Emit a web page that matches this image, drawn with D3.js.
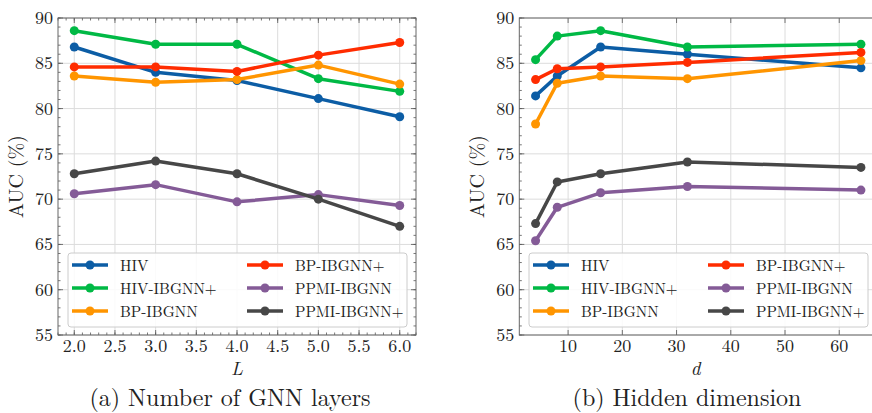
<!DOCTYPE html>
<html>
<head>
<meta charset="utf-8">
<script src="https://cdn.jsdelivr.net/npm/d3@7"></script>
<style>
  body { margin: 0; background: #fff; }
</style>
</head>
<body>
<svg id="chart" width="872" height="413"></svg>
<script>
const seriesNames = ['HIV', 'HIV-IBGNN+', 'BP-IBGNN', 'BP-IBGNN+', 'PPMI-IBGNN', 'PPMI-IBGNN+'];
const seriesColors = ['#0C5DA5', '#00B945', '#FF9500', '#FF2C00', '#845B97', '#474747'];

// (a) number of GNN layers
const layers = [2, 3, 4, 5, 6];
const layerAUC = [
  [86.8, 84.0, 83.1, 81.1, 79.1],
  [88.6, 87.1, 87.1, 83.3, 81.9],
  [83.6, 82.9, 83.2, 84.8, 82.7],
  [84.6, 84.6, 84.1, 85.9, 87.3],
  [70.6, 71.6, 69.7, 70.5, 69.3],
  [72.8, 74.2, 72.8, 70.0, 67.0]
];

// (b) hidden dimension
const dims = [4, 8, 16, 32, 64];
const dimAUC = [
  [81.4, 83.6, 86.8, 86.0, 84.5],
  [85.4, 88.0, 88.6, 86.8, 87.1],
  [78.3, 82.8, 83.6, 83.3, 85.3],
  [83.2, 84.4, 84.6, 85.1, 86.2],
  [65.4, 69.1, 70.7, 71.4, 71.0],
  [67.3, 71.9, 72.8, 74.1, 73.5]
];

const yTicks = [55, 60, 65, 70, 75, 80, 85, 90];
const layerTicks = [2.0, 2.5, 3.0, 3.5, 4.0, 4.5, 5.0, 5.5, 6.0];
const dimTicks = [10, 20, 30, 40, 50, 60];

const FONT = '"Latin Modern Roman"';
const svg = d3.select('#chart');
svg.append('defs').append('clipPath').attr('id', 'page')
  .append('rect').attr('width', 872).attr('height', 413);

function label(sel, size) {
  return sel.style('font-family', FONT).attr('font-size', size).attr('fill', '#222');
}

function panel(opts) {
  const { x0, x1, xDomain, xTicks, xMinor, xFmt, xs, values, xLabel, caption, captionX, legendX } = opts;
  const top = 18, bottom = 335;
  const x = d3.scaleLinear().domain(xDomain).range([x0, x1]);
  const y = d3.scaleLinear().domain([55, 90]).range([bottom, top]);
  const g = svg.append('g');

  // grid
  g.append('g').selectAll('line').data(xTicks).join('line')
    .attr('x1', (d) => x(d)).attr('x2', (d) => x(d))
    .attr('y1', top).attr('y2', bottom)
    .attr('stroke', '#dcdcdc').attr('stroke-width', 1);
  g.append('g').selectAll('line').data(yTicks).join('line')
    .attr('x1', x0).attr('x2', x1)
    .attr('y1', (d) => y(d)).attr('y2', (d) => y(d))
    .attr('stroke', '#dcdcdc').attr('stroke-width', 1);

  // inward ticks on all four sides
  const yMinor = d3.range(55, 91, 1);
  const xMin = d3.range(xDomain[0], xDomain[1] + 1e-9, xMinor).map((v) => +v.toFixed(3))
    .filter((v) => Math.abs(v / xMinor - Math.round(v / xMinor)) < 1e-6);
  const tickG = g.append('g').attr('stroke', '#555').attr('stroke-width', 0.8);
  const addX = (vals, len) => {
    tickG.append('g').selectAll('line').data(vals).join('line')
      .attr('x1', (d) => x(d)).attr('x2', (d) => x(d))
      .attr('y1', bottom).attr('y2', bottom - len);
    tickG.append('g').selectAll('line').data(vals).join('line')
      .attr('x1', (d) => x(d)).attr('x2', (d) => x(d))
      .attr('y1', top).attr('y2', top + len);
  };
  const addY = (vals, len) => {
    tickG.append('g').selectAll('line').data(vals).join('line')
      .attr('y1', (d) => y(d)).attr('y2', (d) => y(d))
      .attr('x1', x0).attr('x2', x0 + len);
    tickG.append('g').selectAll('line').data(vals).join('line')
      .attr('y1', (d) => y(d)).attr('y2', (d) => y(d))
      .attr('x1', x1).attr('x2', x1 - len);
  };
  addX(xMin, 2.5);
  addX(xTicks, 5);
  addY(yMinor, 2.5);
  addY(yTicks, 5);

  // frame
  g.append('rect').attr('x', x0).attr('y', top).attr('width', x1 - x0).attr('height', bottom - top)
    .attr('fill', 'none').attr('stroke', '#666').attr('stroke-width', 1);

  // tick labels
  label(g.append('g').selectAll('text').data(xTicks).join('text'), 18)
    .attr('x', (d) => x(d)).attr('y', bottom + 17)
    .attr('text-anchor', 'middle')
    .text(xFmt);
  label(g.append('g').selectAll('text').data(yTicks).join('text'), 18)
    .attr('x', x0 - 5).attr('y', (d) => y(d) + 6)
    .attr('text-anchor', 'end')
    .text((d) => d);

  // axis labels
  label(g.append('text'), 19).attr('x', (x0 + Math.min(x1, 872)) / 2).attr('y', 375)
    .attr('text-anchor', 'middle').attr('font-style', 'italic')
    .text(xLabel);
  label(g.append('text'), 20).attr('transform', `translate(${x0 - 35},${(top + bottom) / 2}) rotate(-90)`)
    .attr('text-anchor', 'middle')
    .text('AUC (%)');

  // lines
  const line = d3.line().x((d, i) => x(xs[i])).y((d) => y(d));
  const plot = g.append('g').attr('clip-path', 'url(#page)');
  values.forEach((vals, s) => {
    plot.append('path').datum(vals).attr('d', line)
      .attr('fill', 'none').attr('stroke', seriesColors[s]).attr('stroke-width', 3.5)
      .attr('stroke-linejoin', 'round');
    plot.append('g').selectAll('circle').data(vals).join('circle')
      .attr('cx', (d, i) => x(xs[i])).attr('cy', (d) => y(d)).attr('r', 4.5)
      .attr('fill', seriesColors[s]);
  });

  // legend
  const lg = g.append('g').attr('transform', `translate(${legendX},253)`);
  lg.append('rect').attr('width', 339).attr('height', 74).attr('rx', 3)
    .attr('fill', 'rgba(255,255,255,0.85)').attr('stroke', '#ccc');
  seriesNames.forEach((name, i) => {
    const col = Math.floor(i / 3), row = i % 3;
    const item = lg.append('g').attr('transform', `translate(${4 + col * 175},${12 + row * 23})`);
    item.append('line').attr('x1', 0).attr('x2', 36).attr('stroke', seriesColors[i]).attr('stroke-width', 3.5);
    item.append('circle').attr('cx', 18).attr('r', 4.5).attr('fill', seriesColors[i]);
    label(item.append('text'), 15.3).attr('x', 48).attr('y', 5.5).text(name);
  });

  // caption
  label(svg.append('text'), 24).attr('x', captionX).attr('y', 406)
    .attr('text-anchor', 'middle')
    .text(caption);
}

panel({
  x0: 58, x1: 416, xDomain: [1.8, 6.2], xTicks: layerTicks, xMinor: 0.1,
  xFmt: (d) => d.toFixed(1), xs: layers, values: layerAUC,
  xLabel: 'L', caption: '(a) Number of GNN layers', captionX: 230, legendX: 68
});
panel({
  x0: 519.3, x1: 877.2, xDomain: [1, 67], xTicks: dimTicks, xMinor: 2,
  xFmt: (d) => d, xs: dims, values: dimAUC,
  xLabel: 'd', caption: '(b) Hidden dimension', captionX: 687, legendX: 529
});
</script>
</body>
</html>
